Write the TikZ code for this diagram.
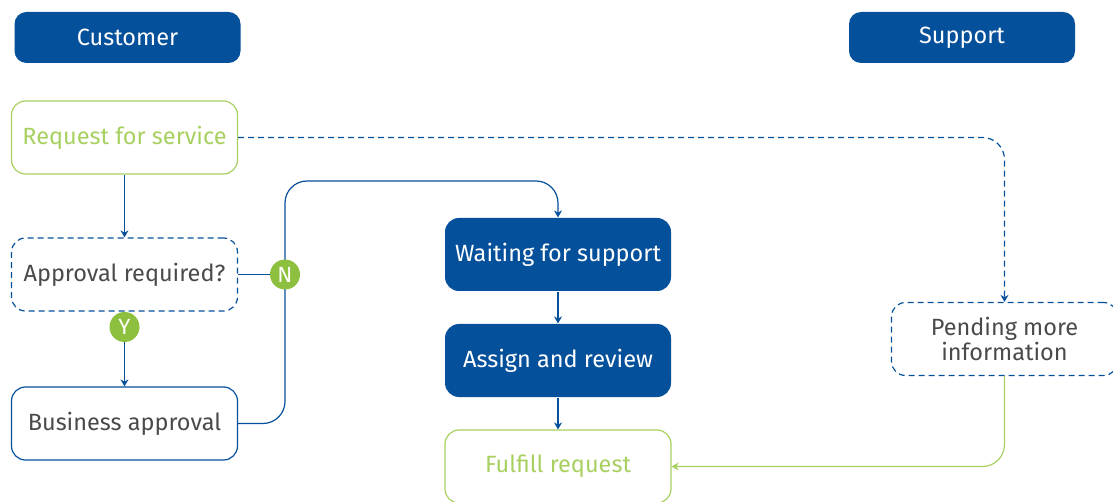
\documentclass[tikz,border=0pt]{standalone}
\usepackage{fontspec}
\setmainfont{Fira Sans}
\usetikzlibrary{arrows.meta,positioning}
\definecolor{dblue}{HTML}{05509B}
\definecolor{lgreen}{HTML}{A8D060}
\definecolor{cgreen}{HTML}{8DC03F}
\definecolor{tgray}{HTML}{4A4A4A}
\tikzset{
  box/.style={rounded corners=14pt, minimum width=226pt, minimum height=73pt, align=center, font=\fontsize{23.5}{25}\selectfont, line width=1.2pt, inner sep=0pt},
  hdr/.style={box, minimum height=51pt, fill=dblue, text=white, draw=none, rounded corners=12pt},
  filled/.style={box, fill=dblue, text=white},
  greenbox/.style={box, draw=lgreen, text=lgreen},
  dashbox/.style={box, draw=dblue, dashed, dash pattern=on 6pt off 4pt, text=tgray},
  bluebox/.style={box, draw=dblue, text=tgray},
  badge/.style={circle, fill=cgreen, text=white, minimum size=30pt, inner sep=0pt, font=\fontsize{22}{22}\selectfont},
  conn/.style={draw=dblue, line width=1.2pt, -{Stealth[length=7pt,width=8pt]}},
  gconn/.style={draw=lgreen, line width=1.2pt, -{Stealth[length=7pt,width=8pt]}},
}
\begin{document}
\begin{tikzpicture}[x=1pt,y=-1pt]
\useasboundingbox (0,0) rectangle (1113,502);
\node[hdr] (cust) at (127.5,37.5) {Customer};
\node[hdr] (supp) at (962,37.5) {Support};
\node[greenbox] (req) at (124.5,137.5) {Request for service};
\node[dashbox] (appr) at (124.5,274.5) {Approval required?};
\node[bluebox] (bus) at (124.5,423.5) {Business approval};
\node[filled] (wait) at (558,254.5) {Waiting for support};
\node[filled] (assign) at (558,360.5) {Assign and review};
\node[greenbox] (ful) at (558,466.5) {Fulfill request};
\node[dashbox] (pend) at (1004.5,339) {Pending more\\information};
\coordinate (nx) at (285,274.5);
\coordinate (yx) at (124.5,327);
% connectors
\draw[conn] (req) -- (appr);
\draw[conn] (appr) -- (bus);
\draw[draw=dblue, line width=1.2pt] (appr.east) -- (nx);
\draw[conn, rounded corners=22pt] (bus.east) -| (nx |- 0,181) -| (wait.north);
\draw[conn] (wait) -- (assign);
\draw[conn] (assign) -- (ful);
\draw[conn, dashed, dash pattern=on 6pt off 4pt, rounded corners=22pt] (req.east) -| (pend.north);
\draw[gconn, rounded corners=22pt] (pend.south) |- (ful.east);
\node[badge] (n) at (nx) {N};
\node[badge] (y) at (yx) {Y};
\end{tikzpicture}
\end{document}
